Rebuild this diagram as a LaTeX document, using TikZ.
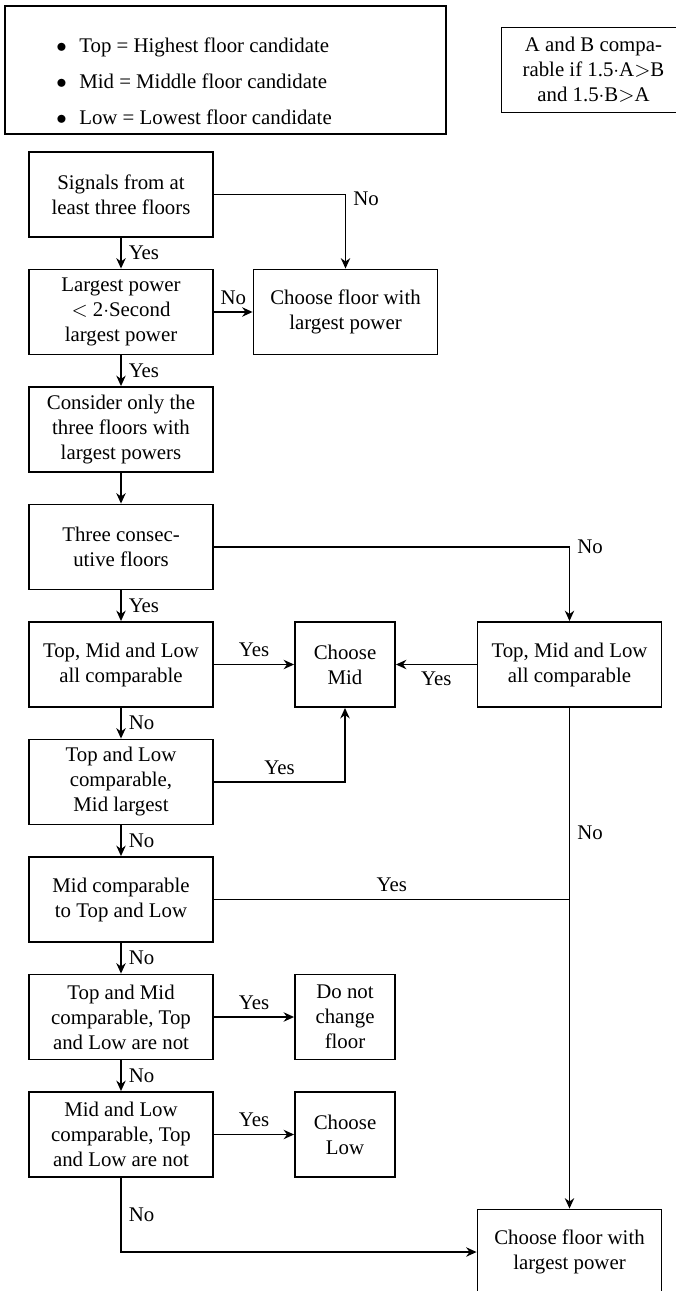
\documentclass[tikz,border=0pt]{standalone}
\usepackage{fontspec}
\setmainfont{Liberation Serif}
\usetikzlibrary{arrows.meta}

\tikzset{
	box/.style={draw,line width=0.9pt,align=center,minimum width=88.3pt,minimum height=40.8pt,inner sep=2pt},
	smallbox/.style={box,minimum width=48pt},
	flow/.style={-{Stealth[length=5pt,width=4.5pt]},thick},
	link/.style={thick},
}

\begin{document}
\begin{tikzpicture}[x=0.48pt,y=-0.48pt]
		\useasboundingbox (0,0) rectangle (675,1291);

		% legend and definition of comparable
		\draw [line width=0.9pt] (5,6) rectangle (446,134);
		\node [align=left,anchor=west,inner sep=0pt] (items) at (56,81)
			{$\bullet$\hspace{6pt}Top = Highest floor candidate\\[5.3pt]
			 $\bullet$\hspace{6pt}Mid = Middle floor candidate\\[5.3pt]
			 $\bullet$\hspace{6pt}Low = Lowest floor candidate};
		\node [box] (note) at (593.5,70) {A and B compa-\\rable if 1.5$\cdot$A$>$B\\and 1.5$\cdot$B$>$A};

		% left column
		\node [box] (sig) at (121,194.5) {Signals from at\\least three floors};
		\node [box] (pow) at (121,312) {Largest power\\$<$ 2$\cdot$Second\\largest power};
		\node [box] (consider) at (121,429.5) {Consider only the\\three floors with\\largest powers};
		\node [box] (consec) at (121,547) {Three consec-\\utive floors};
		\node [box] (allcmp) at (121,664.5) {Top, Mid and Low\\all comparable};
		\node [box] (toplow) at (121,782) {Top and Low\\comparable,\\Mid largest};
		\node [box] (midcmp) at (121,899.5) {Mid comparable\\to Top and Low};
		\node [box] (topmid) at (121,1017) {Top and Mid\\comparable, Top\\and Low are not};
		\node [box] (midlow) at (121,1134.5) {Mid and Low\\comparable, Top\\and Low are not};

		% results
		\node [box] (maxa) at (345.5,312) {Choose floor with\\largest power};
		\node [smallbox] (choosemid) at (345,664.5) {Choose\\Mid};
		\node [smallbox] (nochange) at (345,1017) {Do not\\change\\floor};
		\node [smallbox] (chooselow) at (345,1134.5) {Choose\\Low};
		\node [box] (allcmpb) at (569.5,664.5) {Top, Mid and Low\\all comparable};
		\node [box] (maxb) at (569.5,1252) {Choose floor with\\largest power};

		% down the left column
		\foreach \a/\b/\t in {sig/pow/Yes,pow/consider/Yes,consec/allcmp/Yes,allcmp/toplow/No,toplow/midcmp/No,midcmp/topmid/No,topmid/midlow/No}
			\draw [flow] (\a) -- (\b) node [midway,right] {\t};
		\draw [flow] (consider) -- (consec);

		% sideways
		\draw [flow] (sig.east) -| (maxa.north) node [pos=0.5,right,yshift=-2pt] {No};
		\draw [flow] (pow) -- (maxa) node [midway,above] {No};
		\draw [flow] (consec.east) -| (allcmpb.north) node [pos=0.5,right] {No};
		\draw [flow] (allcmp) -- (choosemid) node [midway,above] {Yes};
		\draw [flow] (allcmpb) -- (choosemid) node [midway,below] {Yes};
		\draw [flow] (toplow.east) -| (choosemid.south) node [pos=0.25,above] {Yes};
		\draw [flow] (allcmpb) -- (maxb) node [pos=0.25,right] {No};
		\draw [link] (midcmp.east) -- (midcmp.east -| allcmpb.south) node [midway,above] {Yes};
		\draw [flow] (topmid) -- (nochange) node [midway,above] {Yes};
		\draw [flow] (midlow) -- (chooselow) node [midway,above] {Yes};
		\draw [flow] (midlow.south) |- (maxb.west) node [pos=0.25,right] {No};

\end{tikzpicture}
\end{document}
